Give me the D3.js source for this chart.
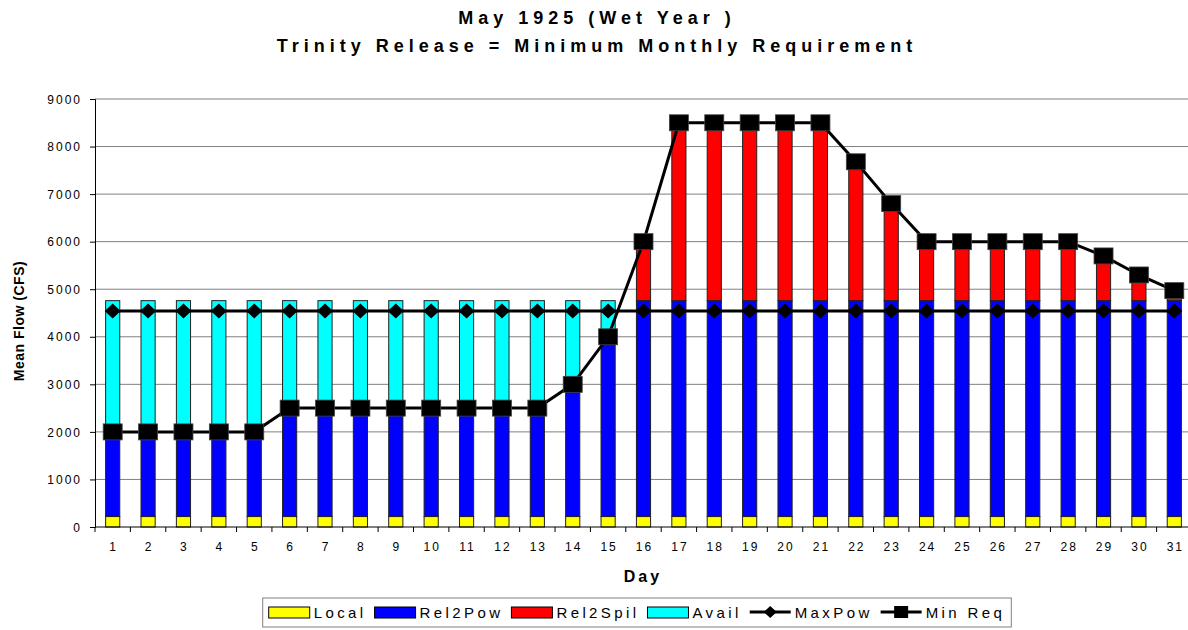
<!DOCTYPE html>
<html>
<head>
<meta charset="utf-8">
<script src="https://cdn.jsdelivr.net/npm/d3@7"></script>
<style>
  body { margin: 0; background: #fff; }
  svg { display: block; font-family: "Liberation Sans", Arial, sans-serif; }
  .grid line { stroke: #808080; stroke-width: 1; }
  .bar { stroke: #222; stroke-width: 1; }
  .tick text { font-size: 12px; letter-spacing: 2px; fill: #000; }
</style>
</head>
<body>
<svg id="chart" width="1188" height="630"></svg>
<script>
// data

var days = ["1","2","3","4","5","6","7","8","9","10","11","12","13","14","15","16",
            "17","18","19","20","21","22","23","24","25","26","27","28","29","30","31"];

var local = [220,220,220,220,220,220,220,220,220,220,220,220,220,220,220,220,
             220,220,220,220,220,220,220,220,220,220,220,220,220,220,220];

var rel2pow = [1780,1780,1780,1780,1780,2280,2280,2280,2280,2280,2280,2280,2280,2780,3780,4540,
               4540,4540,4540,4540,4540,4540,4540,4540,4540,4540,4540,4540,4540,4540,4540];

var rel2spil = [0,0,0,0,0,0,0,0,0,0,0,0,0,0,0,1240,
                3740,3740,3740,3740,3740,2920,2040,1240,1240,1240,1240,1240,940,540,210];

var avail = [2760,2760,2760,2760,2760,2260,2260,2260,2260,2260,2260,2260,2260,1760,760,0,
             0,0,0,0,0,0,0,0,0,0,0,0,0,0,0];

var maxPow = [4540,4540,4540,4540,4540,4540,4540,4540,4540,4540,4540,4540,4540,4540,4540,4540,
              4540,4540,4540,4540,4540,4540,4540,4540,4540,4540,4540,4540,4540,4540,4540];

var minReq = [2000,2000,2000,2000,2000,2500,2500,2500,2500,2500,2500,2500,2500,3000,4000,6000,
              8500,8500,8500,8500,8500,7680,6800,6000,6000,6000,6000,6000,5700,5300,4970];

var yTicks = [0,1000,2000,3000,4000,5000,6000,7000,8000,9000];

var titleLines = ["May 1925 (Wet Year )", "Trinity Release = Minimum Monthly Requirement"];

var seriesKeys = ["local","rel2pow","rel2spil","avail"];
var seriesNames = {local: "Local", rel2pow: "Rel2Pow", rel2spil: "Rel2Spil", avail: "Avail"};
var seriesColors = {local: "#ffff00", rel2pow: "#0000ff", rel2spil: "#ff0000", avail: "#00ffff"};

//
// layout
//

var svg = d3.select("#chart");

var plotLeft = 95, plotRight = 1192, plotTop = 99, plotBottom = 527;

var x = d3.scaleBand()
	.domain(days)
	.range([plotLeft, plotRight])
	.paddingInner(0.6)
	.paddingOuter(0.3);

var step = x.step();
var xc = function(d) { return x(d) + x.bandwidth()/2; };

var y = d3.scaleLinear()
	.domain([0, 9000])
	.range([plotBottom, plotTop]);

// table for the stack
var table = days.map(function(d, i) {
	return {day: d, local: local[i], rel2pow: rel2pow[i], rel2spil: rel2spil[i], avail: avail[i]};
});

var stacked = d3.stack().keys(seriesKeys)(table);

// title
svg.selectAll("text.title")
	.data(titleLines)
	.enter()
	.append("text")
		.attr("class", "title")
		.attr("x", 597)
		.attr("y", function(d, i) { return i == 0 ? 24 : 52; })
		.attr("text-anchor", "middle")
		.style("font-size", "18px")
		.style("font-weight", "bold")
		.style("letter-spacing", "5px")
		.text(function(d) { return d; });

// gridlines
svg.append("g")
	.attr("class", "grid")
	.selectAll("line")
	.data(yTicks.filter(function(v) { return v > 0; }))
	.enter()
	.append("line")
		.attr("x1", plotLeft)
		.attr("x2", plotRight)
		.attr("y1", function(d) { return y(d); })
		.attr("y2", function(d) { return y(d); });

// y axis
var yAxis = svg.append("g")
	.attr("transform", "translate(" + plotLeft + ",0)")
	.call(d3.axisLeft(y).tickValues(yTicks).tickSize(5).tickPadding(8).tickFormat(d3.format("d")));
yAxis.select(".domain").attr("stroke", "#000");
yAxis.selectAll(".tick line").attr("stroke", "#000");
yAxis.selectAll(".tick text").attr("dy", "0.35em");

svg.append("text")
	.attr("transform", "translate(24,321) rotate(-90)")
	.attr("text-anchor", "middle")
	.style("font-size", "14px")
	.style("font-weight", "bold")
	.style("letter-spacing", "0.5px")
	.text("Mean Flow (CFS)");

// bars
svg.append("g")
	.selectAll("g")
	.data(stacked)
	.enter()
	.append("g")
		.attr("fill", function(s) { return seriesColors[s.key]; })
	.selectAll("rect")
	.data(function(s) { return s.filter(function(p) { return p[1] > p[0]; }); })
	.enter()
	.append("rect")
		.attr("class", "bar")
		.attr("x", function(p) { return x(p.data.day); })
		.attr("width", x.bandwidth())
		.attr("y", function(p) { return y(p[1]); })
		.attr("height", function(p) { return y(p[0]) - y(p[1]); });

// x axis
var xAxis = svg.append("g")
	.attr("transform", "translate(0," + plotBottom + ")");
xAxis.append("line")
	.attr("x1", plotLeft).attr("x2", plotRight)
	.attr("stroke", "#000");
xAxis.selectAll("line.tk")
	.data(d3.range(days.length + 1))
	.enter()
	.append("line")
		.attr("class", "tk")
		.attr("x1", function(k) { return plotLeft + k*step; })
		.attr("x2", function(k) { return plotLeft + k*step; })
		.attr("y1", 0).attr("y2", 5)
		.attr("stroke", "#000");
xAxis.selectAll("text")
	.data(days)
	.enter()
	.append("text")
		.attr("x", function(d) { return xc(d) + 1; })
		.attr("y", 24)
		.attr("text-anchor", "middle")
		.style("font-size", "12px")
		.style("letter-spacing", "2px")
		.text(function(d) { return d; });

svg.append("text")
	.attr("x", 643)
	.attr("y", 582)
	.attr("text-anchor", "middle")
	.style("font-size", "16px")
	.style("font-weight", "bold")
	.style("letter-spacing", "3px")
	.text("Day");

// lines
var line = d3.line()
	.x(function(p) { return xc(p[0]); })
	.y(function(p) { return y(p[1]); });

function diamond(w, h) {
	return "M0," + (-h) + "L" + w + ",0L0," + h + "L" + (-w) + ",0Z";
}

var pairsMax = days.map(function(d, i) { return [d, maxPow[i]]; });
var pairsReq = days.map(function(d, i) { return [d, minReq[i]]; });

svg.append("path")
	.datum(pairsMax)
	.attr("fill", "none")
	.attr("stroke", "#000")
	.attr("stroke-width", 3)
	.attr("d", line);

svg.append("g")
	.selectAll("path")
	.data(pairsMax)
	.enter()
	.append("path")
		.attr("d", diamond(8, 7.5))
		.attr("transform", function(p) { return "translate(" + xc(p[0]) + "," + y(p[1]) + ")"; })
		.attr("fill", "#000");

svg.append("path")
	.datum(pairsReq)
	.attr("fill", "none")
	.attr("stroke", "#000")
	.attr("stroke-width", 3)
	.attr("d", line);

svg.append("g")
	.selectAll("rect")
	.data(pairsReq)
	.enter()
	.append("rect")
		.attr("x", function(p) { return xc(p[0]) - 9.5; })
		.attr("y", function(p) { return y(p[1]) - 8; })
		.attr("width", 19)
		.attr("height", 16)
		.attr("fill", "#000")
		.attr("stroke", "#444")
		.attr("stroke-width", 0.8);

// legend
var legendItems = seriesKeys.map(function(k) { return {name: seriesNames[k], kind: "box", color: seriesColors[k]}; })
	.concat([{name: "MaxPow", kind: "diamond"}, {name: "Min Req", kind: "square"}]);

var legend = svg.append("g");
var legendBox = legend.append("rect")
	.attr("fill", "#fff")
	.attr("stroke", "#808080")
	.attr("stroke-width", 1);

var lx = 0;
legendItems.forEach(function(it) {
	var g = legend.append("g").attr("transform", "translate(" + lx + ",0)");
	if (it.kind == "box") {
		g.append("rect")
			.attr("x", 0).attr("y", -5)
			.attr("width", 41).attr("height", 11)
			.attr("fill", it.color)
			.attr("stroke", "#000");
	} else {
		g.append("line")
			.attr("x1", 0).attr("x2", 41)
			.attr("stroke", "#000").attr("stroke-width", 3);
		if (it.kind == "diamond")
			g.append("path").attr("d", diamond(6.5, 6)).attr("transform", "translate(20.5,0)");
		else
			g.append("rect").attr("x", 13.5).attr("y", -6).attr("width", 14).attr("height", 12);
	}
	var t = g.append("text")
		.attr("x", 45)
		.attr("y", 6)
		.style("font-size", "15px")
		.style("letter-spacing", "3.4px")
		.text(it.name);
	lx += 45 + t.node().getComputedTextLength() + 8;
});

var legendW = lx + 4;
var legendX = 637 - legendW/2;
legend.attr("transform", "translate(" + (legendX + 6) + ",612)");
legendBox
	.attr("x", -6).attr("y", -14)
	.attr("width", legendW).attr("height", 29);
</script>
</body>
</html>
